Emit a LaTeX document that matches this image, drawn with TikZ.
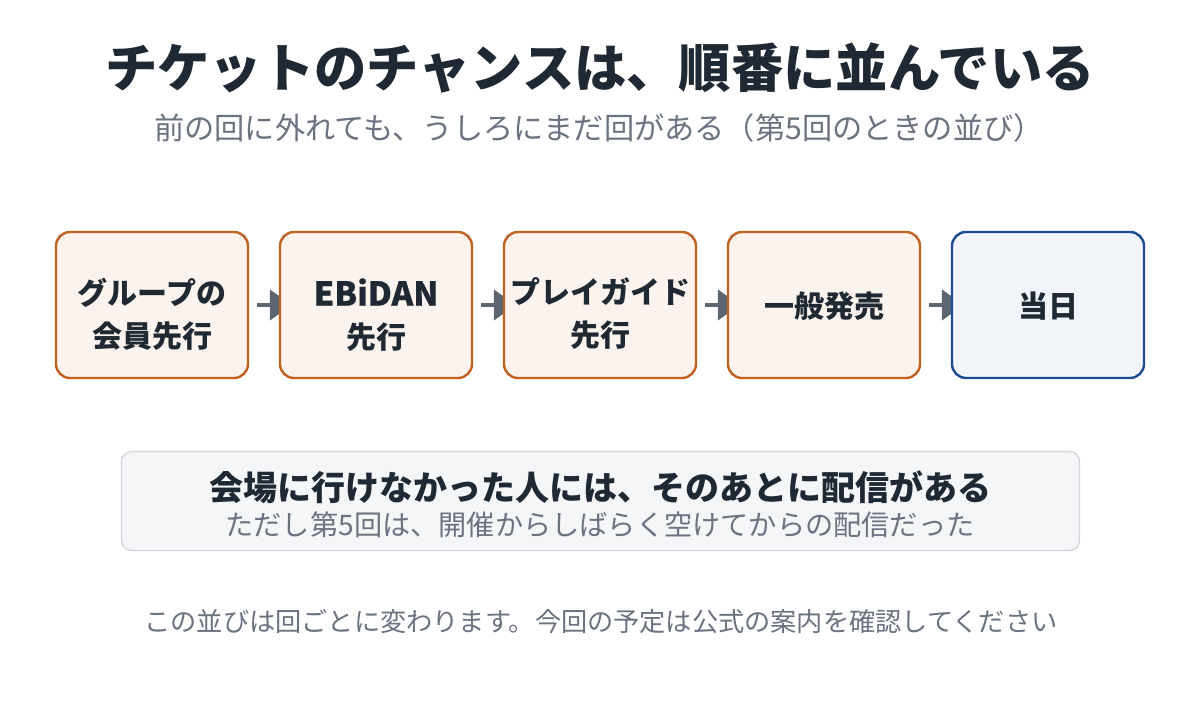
\documentclass[tikz,border=0pt]{standalone}
\usepackage{fontspec}
\setmainfont{Noto Sans CJK JP}
\newfontfamily\medfont{Noto Sans CJK JP}[FakeBold=0.5]
\usetikzlibrary{arrows.meta,backgrounds}
\definecolor{ink}{HTML}{1F2933}
\definecolor{subg}{HTML}{6B7280}
\definecolor{obord}{HTML}{C2621F}
\definecolor{ofill}{HTML}{FBF3EE}
\definecolor{bbord}{HTML}{1C4A94}
\definecolor{bfill}{HTML}{F1F4F9}
\definecolor{nfill}{HTML}{F5F6F8}
\definecolor{nbord}{HTML}{D1D5DB}
\definecolor{arr}{HTML}{5D6670}
\begin{document}
\begin{tikzpicture}[x=1pt,y=-1pt,
  stage/.style={draw=obord,fill=ofill,line width=2.4pt,rounded corners=14pt,
    minimum width=192pt,minimum height=146pt,inner sep=0pt},
  daybox/.style={stage,draw=bbord,fill=bfill},
  stagetext/.style={align=center,inner sep=0pt,font=\fontsize{30}{43}\selectfont\bfseries,text=ink},
  flow/.style={draw=arr,line width=4.5pt,-{Triangle[length=22pt,width=30pt]},shorten <=8pt,shorten >=-13pt}]
\useasboundingbox (0,0) rectangle (1200,720);
\node[font=\fontsize{52.3}{60}\selectfont\bfseries,text=ink] (title) at (600,68) {チケットのチャンスは、順番に並んでいる};
\node[font=\fontsize{30.2}{34}\selectfont,text=subg] (sub) at (599,128) {前の回に外れても、うしろにまだ回がある（第5回のときの並び）};
\node[stage] (s1) at (152,305) {};
\node[stage] (s2) at (376,305) {};
\node[stage] (s3) at (600,305) {};
\node[stage] (s4) at (824,305) {};
\node[daybox] (s5) at (1048,305) {};
\node[stagetext] (t1) at (152,314) {グループの\\会員先行};
\node[stagetext] (t2) at (376,315) {{\medfont\fontsize{33}{43}\selectfont EBiDAN}\\先行};
\node[stagetext] (t3) at (600,314) {プレイガイド\\先行};
\node[stagetext] (t4) at (824,306) {一般発売};
\node[stagetext] (t5) at (1048,306) {当日};
\begin{scope}[on background layer]
\fill[white] (0,0) rectangle (1200,720);
\foreach \a/\b in {s1/s2,s2/s3,s3/s4,s4/s5} \draw[flow] (\a.east) -- (\b.west);
\end{scope}
\node[draw=nbord,fill=nfill,line width=1.3pt,rounded corners=10pt,minimum width=958pt,minimum height=99pt] (note) at (600.5,501) {};
\node[font=\fontsize{34}{40}\selectfont\bfseries,text=ink] (n1) at (600,487) {会場に行けなかった人には、そのあとに配信がある};
\node[font=\fontsize{28.2}{34}\selectfont,text=subg] (n2) at (600,525) {ただし第5回は、開催からしばらく空けてからの配信だった};
\node[font=\fontsize{26.2}{30}\selectfont,text=subg] (foot) at (601,622) {この並びは回ごとに変わります。今回の予定は公式の案内を確認してください};
\end{tikzpicture}
\end{document}
